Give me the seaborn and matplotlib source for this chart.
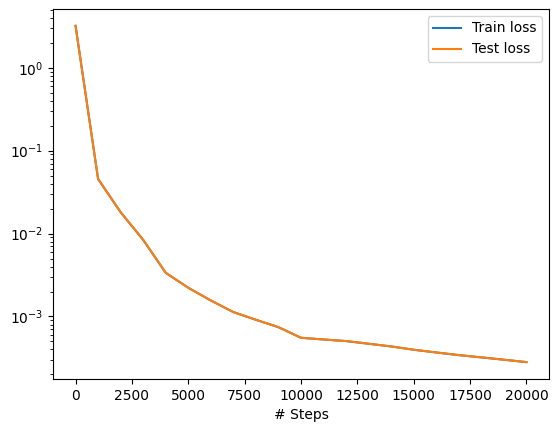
import matplotlib
matplotlib.use("Agg")
import matplotlib.pyplot as plt
import seaborn as sns

# loss history, every 1000 steps
steps = [0, 1000, 2000, 3000, 4000, 5000, 6000, 7000, 8000, 9000, 10000,
         11000, 12000, 13000, 14000, 15000, 16000, 17000, 18000, 19000, 20000]
train_loss = [3.21, 0.0456, 0.0181, 0.00840, 0.00336, 0.00222, 0.00156, 0.00113,
              0.000912, 0.000743, 0.000553, 0.000528, 0.000505, 0.000469, 0.000435,
              0.000397, 0.000368, 0.000342, 0.000321, 0.000301, 0.000281]
test_loss = [3.21, 0.0457, 0.0181, 0.00842, 0.00337, 0.00222, 0.00156, 0.00113,
             0.000913, 0.000743, 0.000554, 0.000528, 0.000505, 0.000469, 0.000435,
             0.000397, 0.000368, 0.000342, 0.000321, 0.000301, 0.000282]

fig = plt.figure(figsize=(5.59, 4.32), dpi=100)
ax = fig.add_axes([53 / 559, 53 / 432, 496 / 559, 370 / 432])

sns.lineplot(x=steps, y=train_loss, ax=ax, label="Train loss", color="C0")
sns.lineplot(x=steps, y=test_loss, ax=ax, label="Test loss", color="C1")

ax.set_yscale("log")
ax.set_xlabel("# Steps")
ax.legend(loc="upper right")

fig.savefig("out.png", dpi=100)
